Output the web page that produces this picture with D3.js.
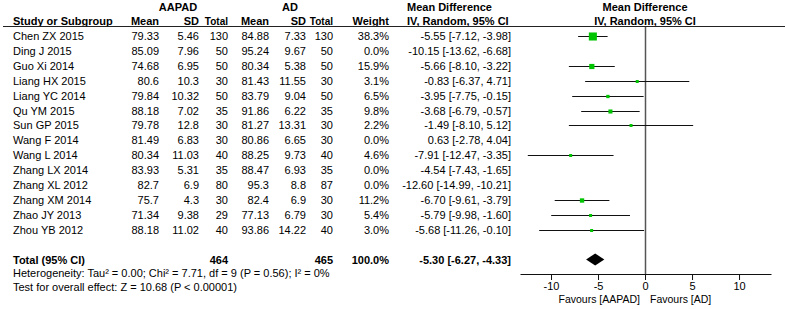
<!DOCTYPE html>
<html>
<head>
<meta charset="utf-8">
<script src="https://cdn.jsdelivr.net/npm/d3@7"></script>
<style>
  body { margin: 0; background: #fff; }
  svg { display: block; font-family: 'Liberation Sans', Arial, sans-serif; font-size: 11px; }
  .b { font-weight: bold; }
</style>
</head>
<body>
<div id="chart"></div>
<script>
  // Study rows
  var studies = ['Chen ZX 2015', 'Ding J 2015', 'Guo Xi 2014', 'Liang HX 2015', 'Liang YC 2014',
    'Qu YM 2015', 'Sun GP 2015', 'Wang F 2014', 'Wang L 2014', 'Zhang LX 2014',
    'Zhang XL 2012', 'Zhang XM 2014', 'Zhao JY 2013', 'Zhou YB 2012']
  var aapadMean = [79.33, 85.09, 74.68, 80.6, 79.84, 88.18, 79.78, 81.49, 80.34, 83.93, 82.7, 75.7, 71.34, 88.18]
  var aapadSD = [5.46, 7.96, 6.95, 10.3, 10.32, 7.02, 12.8, 6.83, 11.03, 5.31, 6.9, 4.3, 9.38, 11.02]
  var aapadTotal = [130, 50, 50, 30, 50, 35, 30, 30, 40, 35, 80, 30, 29, 40]
  var adMean = [84.88, 95.24, 80.34, 81.43, 83.79, 91.86, 81.27, 80.86, 88.25, 88.47, 95.3, 82.4, 77.13, 93.86]
  var adSD = [7.33, 9.67, 5.38, 11.55, 9.04, 6.22, 13.31, 6.65, 9.73, 6.93, 8.8, 6.9, 6.79, 14.22]
  var adTotal = [130, 50, 50, 30, 50, 35, 30, 30, 40, 35, 87, 30, 30, 40]
  var weights = [38.3, 0.0, 15.9, 3.1, 6.5, 9.8, 2.2, 0.0, 4.6, 0.0, 0.0, 11.2, 5.4, 3.0]
  var md = [-5.55, -10.15, -5.66, -0.83, -3.95, -3.68, -1.49, 0.63, -7.91, -4.54, -12.60, -6.70, -5.79, -5.68]
  var lo = [-7.12, -13.62, -8.10, -6.37, -7.75, -6.79, -8.10, -2.78, -12.47, -7.43, -14.99, -9.61, -9.98, -11.26]
  var hi = [-3.98, -6.68, -3.22, 4.71, -0.15, -0.57, 5.12, 4.04, -3.35, -1.65, -10.21, -3.79, -1.60, -0.10]

  // Pooled result
  var total = { label: 'Total (95% CI)', n1: 464, n2: 465, weight: 100.0, md: -5.30, lo: -6.27, hi: -4.33 }
  var tickValues = [-10, -5, 0, 5, 10]
  var hetText = 'Heterogeneity: Tau\u00b2 = 0.00; Chi\u00b2 = 7.71, df = 9 (P = 0.56); I\u00b2 = 0%'
  var testText = 'Test for overall effect: Z = 10.68 (P < 0.00001)'

  var w = 785
  var h = 309

  var svg = d3.select('#chart').append('svg')
    .attr('width', w)
    .attr('height', h)

  var x = d3.scaleLinear().domain([-13.3, 13.4]).range([520, 771])
  var rowY = d3.scaleLinear().domain([0, 1]).range([36, 50.9])
  var totalY = rowY(15)
  var axisY = 274

  var fmt2 = function (v) { return v.toFixed(2) }
  var ciText = function (m, l, u) { return fmt2(m) + ' [' + fmt2(l) + ', ' + fmt2(u) + ']' }

  // column right edges
  var cols = [159, 199, 228, 269, 306, 333, 389, 511]

  function txt (g, s, xx, yy, anchor, cls) {
    return g.append('text').attr('x', xx).attr('y', yy)
      .attr('text-anchor', anchor || 'start')
      .attr('class', cls || null)
      .text(s)
  }

  // Header
  txt(svg, 'AAPAD', 178, 11, 'middle', 'b')
  txt(svg, 'AD', 290, 11, 'middle', 'b')
  txt(svg, 'Mean Difference', 407, 11, 'start', 'b')
  txt(svg, 'IV, Random, 95% CI', 407, 25, 'start', 'b')
  txt(svg, 'Mean Difference', x(0), 11, 'middle', 'b')
  txt(svg, 'IV, Random, 95% CI', x(0), 25, 'middle', 'b')
  txt(svg, 'Study or Subgroup', 13, 25, 'start', 'b')
  var heads = ['Mean', 'SD', 'Total', 'Mean', 'SD', 'Total', 'Weight']
  heads.forEach(function (s, i) {
    var t = txt(svg, s, cols[i], 25, 'end', 'b')
    if (s === 'Total') t.attr('font-size', 10)
  })

  svg.append('line')
    .attr('x1', 3).attr('x2', w)
    .attr('y1', 26.5).attr('y2', 26.5)
    .attr('stroke', '#222').attr('stroke-width', 1)

  // Study rows text
  var rows = svg.append('g').selectAll('g').data(studies).enter().append('g')
    .attr('transform', function (d, i) { return 'translate(0,' + (rowY(i) + 4) + ')' })
  rows.each(function (d, i) {
    var g = d3.select(this)
    txt(g, d, 13, 0)
    var vals = [String(aapadMean[i]), String(aapadSD[i]), String(aapadTotal[i]),
      String(adMean[i]), String(adSD[i]), String(adTotal[i]),
      weights[i].toFixed(1) + '%', ciText(md[i], lo[i], hi[i])]
    vals.forEach(function (v, j) { txt(g, v, cols[j], 0, 'end') })
  })

  // Total row text
  var tg = svg.append('g').attr('transform', 'translate(0,' + (totalY + 4) + ')')
  txt(tg, total.label, 13, 0, 'start', 'b')
  txt(tg, String(total.n1), cols[2], 0, 'end', 'b')
  txt(tg, String(total.n2), cols[5], 0, 'end', 'b')
  txt(tg, total.weight.toFixed(1) + '%', cols[6], 0, 'end', 'b')
  txt(tg, ciText(total.md, total.lo, total.hi), cols[7], 0, 'end', 'b')

  txt(svg, hetText, 13, 277)
  txt(svg, testText, 13, 291)

  // Zero line
  svg.append('line')
    .attr('x1', Math.round(x(0)) + 0.5).attr('x2', Math.round(x(0)) + 0.5)
    .attr('y1', 27).attr('y2', axisY)
    .attr('stroke', '#555').attr('stroke-width', 1.5)

  // CIs and squares (studies with weight > 0 only)
  var idx = d3.range(studies.length).filter(function (i) { return weights[i] > 0 })
  var plot = svg.append('g')
  plot.selectAll('line.ci').data(idx).enter().append('line')
    .attr('class', 'ci')
    .attr('x1', function (i) { return x(lo[i]) })
    .attr('x2', function (i) { return x(hi[i]) })
    .attr('y1', function (i) { return Math.round(rowY(i)) + 0.5 })
    .attr('y2', function (i) { return Math.round(rowY(i)) + 0.5 })
    .attr('stroke', '#111').attr('stroke-width', 1)

  var side = function (i) { return Math.max(3, 1.3 * Math.sqrt(weights[i])) }
  plot.selectAll('rect').data(idx).enter().append('rect')
    .attr('x', function (i) { return x(md[i]) - side(i) / 2 })
    .attr('y', function (i) { return Math.round(rowY(i)) + 0.5 - side(i) / 2 })
    .attr('width', side)
    .attr('height', side)
    .attr('fill', '#00c400')

  // Diamond
  plot.append('path')
    .attr('d', 'M' + x(total.lo) + ',' + totalY + 'L' + x(total.md) + ',' + (totalY - 6) +
      'L' + x(total.hi) + ',' + totalY + 'L' + x(total.md) + ',' + (totalY + 6) + 'Z')
    .attr('fill', '#000')

  // Axis
  var axis = d3.axisBottom(x).tickValues(tickValues).tickSize(6).tickSizeOuter(0)
    .tickFormat(d3.format('d'))
  var ax = svg.append('g')
    .attr('transform', 'translate(0,' + axisY + ')')
    .call(axis)
  ax.select('.domain').attr('stroke', '#111')
  ax.selectAll('.tick line').attr('stroke', '#111')
  ax.selectAll('.tick text')
    .attr('font-family', 'Liberation Sans, Arial, sans-serif')
    .attr('font-size', 11)
    .attr('fill', '#000')
    .attr('dy', '0.6em')
    .text(function (d) { return d < 0 ? '-' + Math.abs(d) : String(d) })

  svg.append('text').attr('x', 640).attr('y', 303).attr('text-anchor', 'end')
    .attr('font-size', 10.5).text('Favours [AAPAD]')
  svg.append('text').attr('x', 650).attr('y', 303).attr('text-anchor', 'start')
    .attr('font-size', 10.5).text('Favours [AD]')
</script>
</body>
</html>
